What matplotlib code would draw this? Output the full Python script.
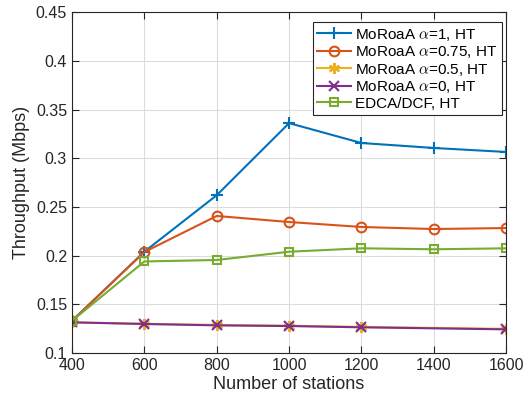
import matplotlib
matplotlib.use('Agg')
import matplotlib.pyplot as plt
import numpy as np

plt.rcParams['font.family'] = ['Liberation Sans', 'DejaVu Sans']
plt.rcParams['mathtext.fontset'] = 'cm'

# data
stations = [400, 600, 800, 1000, 1200, 1400, 1600]
stations_low = [400, 600, 800, 1000, 1200, 1600]
alpha1 = [0.133, 0.204, 0.262, 0.336, 0.3156, 0.3105, 0.3064]
alpha075 = [0.133, 0.2037, 0.2407, 0.2345, 0.2294, 0.2273, 0.2283]
alpha05 = [0.1315, 0.1300, 0.1288, 0.1280, 0.1268, 0.1248]
alpha0 = [0.1315, 0.1298, 0.1284, 0.1277, 0.1264, 0.1243]
edca = [0.133, 0.194, 0.1955, 0.204, 0.2075, 0.2065, 0.2075]

labels = [r'MoRoaA $\alpha$=1, HT', r'MoRoaA $\alpha$=0.75, HT',
          r'MoRoaA $\alpha$=0.5, HT', r'MoRoaA $\alpha$=0, HT', 'EDCA/DCF, HT']

fig = plt.figure(figsize=(5.29, 4.03), dpi=100)
ax = fig.add_axes([0.136, 0.124, 0.821, 0.846])

ax.plot(stations, alpha1, color='#0072BD', marker='+', ms=8, mew=1.5, lw=1.5, label=labels[0])
ax.plot(stations, alpha075, color='#D95319', marker='o', ms=7, mfc='none', mew=1.5, lw=1.5, label=labels[1])
ax.plot(stations_low, alpha05, color='#EDB120', marker=(6, 2, 0), ms=8, mew=1.5, lw=1.5, label=labels[2])
ax.plot(stations_low, alpha0, color='#7E2F8E', marker='x', ms=7, mew=1.5, lw=1.5, label=labels[3])
ax.plot(stations, edca, color='#77AC30', marker='s', ms=6, mfc='none', mew=1.5, lw=1.5, label=labels[4])

ax.set_xlim(400, 1600)
ax.set_ylim(0.1, 0.45)
ax.set_xticks(stations)
ax.set_yticks(np.arange(0.1, 0.451, 0.05))
ax.set_yticklabels(['0.1', '0.15', '0.2', '0.25', '0.3', '0.35', '0.4', '0.45'])
ax.grid(True, color='#dcdcdc', lw=0.8)
ax.set_axisbelow(True)
ax.tick_params(direction='in', top=True, right=True, labelsize=11.5, colors='#262626', length=5)
for s in ax.spines.values():
    s.set_color('#262626')
    s.set_linewidth(0.8)

ax.set_xlabel('Number of stations', fontsize=13, color='#262626', labelpad=2)
ax.set_ylabel('Throughput (Mbps)', fontsize=13, color='#262626', labelpad=4)

leg = ax.legend(loc='upper right', bbox_to_anchor=(0.998, 0.98), fontsize=11,
                fancybox=False, framealpha=1, edgecolor='#262626',
                handlelength=2.2, handletextpad=0.3, labelspacing=0.1,
                borderpad=0.3, borderaxespad=0.2)
leg.get_frame().set_linewidth(0.8)

fig.savefig('out.png', dpi=100)
